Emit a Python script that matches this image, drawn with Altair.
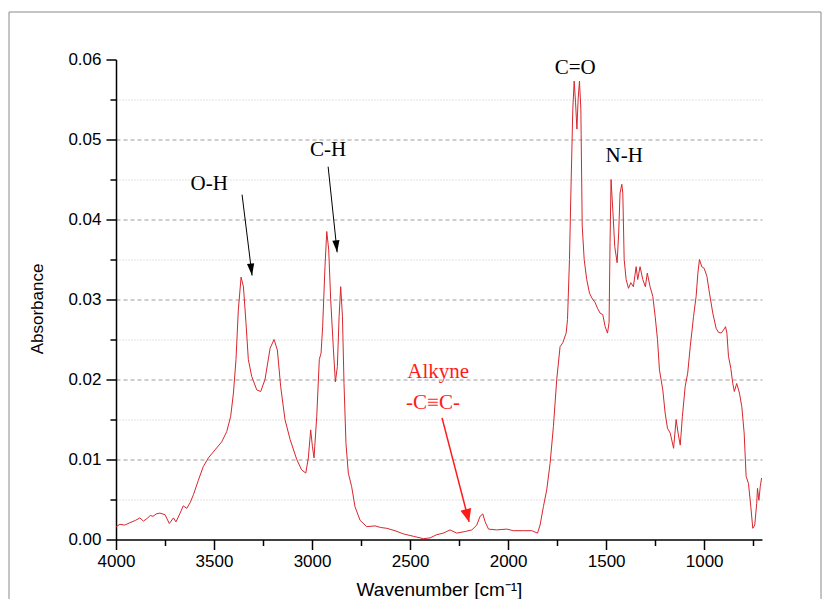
import altair as alt
import pandas as pd

# ---------------- data ----------------
WAVENUMBER = [
    4000, 3980, 3955, 3929, 3900, 3878, 3860, 3843, 3825, 3811, 3795, 3776, 3750, 3728, 3707, 3694,
    3673, 3657, 3639, 3622, 3605, 3580, 3555, 3529, 3495, 3461, 3435, 3415, 3401, 3388, 3376, 3362,
    3350, 3337, 3325, 3308, 3282, 3262, 3240, 3214, 3194, 3177, 3160, 3138, 3112, 3078, 3053, 3032,
    3019, 3007, 2998, 2990, 2976, 2963, 2954, 2946, 2934, 2925, 2915, 2905, 2891, 2881, 2871, 2862,
    2854, 2845, 2837, 2827, 2815, 2798, 2781, 2755, 2721, 2679, 2650, 2619, 2577, 2534, 2483, 2432,
    2398, 2364, 2330, 2296, 2262, 2219, 2185, 2160, 2143, 2129, 2117, 2100, 2058, 2007, 1973, 1922,
    1879, 1850, 1837, 1820, 1803, 1786, 1769, 1752, 1735, 1721, 1704, 1697, 1687, 1679, 1670, 1663,
    1656, 1649, 1643, 1636, 1629, 1622, 1612, 1599, 1585, 1573, 1556, 1544, 1531, 1517, 1505, 1493,
    1485, 1480, 1475, 1466, 1456, 1444, 1436, 1429, 1420, 1415, 1408, 1398, 1386, 1374, 1361, 1347,
    1339, 1327, 1313, 1300, 1290, 1276, 1262, 1250, 1238, 1228, 1211, 1199, 1187, 1173, 1156, 1143,
    1133, 1122, 1111, 1097, 1084, 1071, 1054, 1041, 1032, 1024, 1012, 1000, 986, 973, 956, 939,
    927, 913, 901, 891, 884, 876, 864, 854, 846, 834, 820, 808, 796, 786, 774, 762,
    752, 742, 732, 728, 721, 714, 707,
]
ABSORBANCE = [
    0.0016, 0.0019, 0.0018, 0.0021, 0.0024, 0.0027, 0.0023, 0.0026, 0.0030, 0.0029, 0.0032, 0.0033, 0.0031, 0.0020, 0.0027, 0.0022,
    0.0033, 0.0042, 0.0039, 0.0046, 0.0056, 0.0074, 0.0091, 0.0102, 0.0112, 0.0122, 0.0135, 0.0154, 0.0183, 0.0225, 0.0287, 0.0328,
    0.0316, 0.0271, 0.0225, 0.0204, 0.0187, 0.0185, 0.0200, 0.0239, 0.0250, 0.0237, 0.0191, 0.0150, 0.0125, 0.0100, 0.0087, 0.0083,
    0.0102, 0.0137, 0.0116, 0.0102, 0.0154, 0.0225, 0.0233, 0.0266, 0.0341, 0.0385, 0.0362, 0.0300, 0.0237, 0.0197, 0.0216, 0.0279,
    0.0316, 0.0279, 0.0195, 0.0120, 0.0083, 0.0066, 0.0041, 0.0024, 0.0016, 0.0017, 0.0015, 0.0014, 0.0011, 0.0007, 0.0004, 0.0001,
    0.0002, 0.0006, 0.0008, 0.0012, 0.0008, 0.0010, 0.0012, 0.0018, 0.0029, 0.0032, 0.0022, 0.0013, 0.0012, 0.0013, 0.0011, 0.0011,
    0.0011, 0.0008, 0.0018, 0.0041, 0.0062, 0.0095, 0.0141, 0.0200, 0.0241, 0.0246, 0.0258, 0.0275, 0.0350, 0.0442, 0.0538, 0.0573,
    0.0546, 0.0513, 0.0550, 0.0573, 0.0538, 0.0392, 0.0350, 0.0325, 0.0308, 0.0302, 0.0296, 0.0289, 0.0283, 0.0281, 0.0266, 0.0258,
    0.0271, 0.0371, 0.0450, 0.0412, 0.0366, 0.0346, 0.0383, 0.0433, 0.0444, 0.0433, 0.0350, 0.0325, 0.0314, 0.0321, 0.0316, 0.0341,
    0.0325, 0.0341, 0.0325, 0.0316, 0.0333, 0.0316, 0.0304, 0.0279, 0.0250, 0.0212, 0.0187, 0.0158, 0.0139, 0.0133, 0.0114, 0.0150,
    0.0133, 0.0118, 0.0154, 0.0191, 0.0208, 0.0241, 0.0279, 0.0304, 0.0333, 0.0350, 0.0341, 0.0339, 0.0329, 0.0308, 0.0283, 0.0264,
    0.0259, 0.0258, 0.0262, 0.0266, 0.0258, 0.0229, 0.0214, 0.0195, 0.0185, 0.0195, 0.0183, 0.0166, 0.0133, 0.0079, 0.0070, 0.0041,
    0.0014, 0.0018, 0.0045, 0.0064, 0.0049, 0.0066, 0.0077,
]

X_TICKS = [4000, 3750, 3500, 3250, 3000, 2750, 2500, 2250, 2000, 1750, 1500, 1250, 1000, 750]
Y_TICKS = [0.0, 0.005, 0.01, 0.015, 0.02, 0.025, 0.03, 0.035, 0.04, 0.045, 0.05, 0.055, 0.06]

BAND_TEXT = ["O-H", "C-H", "C=O", "N-H"]
BAND_WN = [3525, 2918, 1658, 1408]
BAND_ABS = [0.0445, 0.0487, 0.0589, 0.0480]

ALKYNE_TEXT = ["Alkyne", "-C\u2261C-"]
ALKYNE_WN = [2357, 2383]
ALKYNE_ABS = [0.0210, 0.0171]

ARROW_WN1 = [3357, 2918]
ARROW_ABS1 = [0.0431, 0.0466]
ARROW_WN2 = [3306, 2872]
ARROW_ABS2 = [0.0330, 0.0359]
ARROW_ANGLE = [352.9, 354.0]

ALK_ARROW_WN1 = [2337]
ALK_ARROW_ABS1 = [0.0152]
ALK_ARROW_WN2 = [2199]
ALK_ARROW_ABS2 = [0.0022]
ALK_ARROW_ANGLE = [345.4]

# ---------------- chart ----------------
W, H = 646, 480
RED_LINE = "#d8262c"
RED_TXT = "#ff1a1a"

spec = pd.DataFrame({"wn": WAVENUMBER, "a": ABSORBANCE})
bands = pd.DataFrame({"wn": BAND_WN, "a": BAND_ABS, "t": BAND_TEXT})
alk = pd.DataFrame({"wn": ALKYNE_WN, "a": ALKYNE_ABS, "t": ALKYNE_TEXT})
arrows = pd.DataFrame({"wn": ARROW_WN1, "a": ARROW_ABS1, "wn2": ARROW_WN2, "a2": ARROW_ABS2, "ang": ARROW_ANGLE})
alk_arrow = pd.DataFrame({"wn": ALK_ARROW_WN1, "a": ALK_ARROW_ABS1, "wn2": ALK_ARROW_WN2, "a2": ALK_ARROW_ABS2,
                          "ang": ALK_ARROW_ANGLE})

major_y = "abs(datum.value * 100 - round(datum.value * 100)) < 0.0001"
major_x = "datum.value % 500 === 0"

x_axis = alt.Axis(
    values=X_TICKS,
    title="Wavenumber [cm\u207b\u00b9]",
    labelExpr=f"{major_x} ? datum.label : ''",
    format="d",
    grid=False,
    tickSize={"condition": {"test": major_x, "value": 10}, "value": 6},
    tickColor="black",
    tickWidth=1.5,
    domainColor="black",
    domainWidth=1.5,
    labelFont="Liberation Sans",
    labelFontSize=17,
    labelColor="black",
    labelPadding=4,
    labelFlush=False,
    labelOverlap=False,
    titleFont="Liberation Sans",
    titleFontSize=19,
    titleFontWeight="normal",
    titleColor="black",
    titleY=50,
    titleBaseline="middle",
)
y_axis = alt.Axis(
    values=Y_TICKS,
    title="Absorbance",
    format=".2f",
    labelExpr=f"{major_y} ? datum.label : ''",
    grid=True,
    gridColor={"condition": {"test": major_y, "value": "#9c9c9c"}, "value": "#c4c4c4"},
    gridDash={"condition": {"test": major_y, "value": [4, 3]}, "value": [1, 2]},
    gridOpacity={"condition": {"test": "datum.value < 0.0001 || datum.value > 0.0599", "value": 0}, "value": 1},
    gridWidth=1,
    tickSize={"condition": {"test": major_y, "value": 10}, "value": 6},
    tickColor="black",
    tickWidth=1.5,
    domainColor="black",
    domainWidth=1.5,
    labelFont="Liberation Sans",
    labelFontSize=17,
    labelColor="black",
    labelPadding=5,
    labelOverlap=False,
    titleFont="Liberation Sans",
    titleFontSize=17,
    titleFontWeight="normal",
    titleColor="black",
    titleX=-79,
    titleY=249,
    titleAngle=270,
    titleAlign="center",
    titleBaseline="middle",
)

xs = alt.Scale(domain=[4000, 705], nice=False, zero=False)
ys = alt.Scale(domain=[0, 0.06], nice=False, zero=False)


def X(field="wn"):
    return alt.X(f"{field}:Q", scale=xs, axis=x_axis)


def Y(field="a"):
    return alt.Y(f"{field}:Q", scale=ys, axis=y_axis)


frame = alt.Chart(pd.DataFrame({"k": [0]})).mark_rect(
    fill=None, stroke="#8a8a8a", strokeWidth=1
).encode(
    x=alt.value(-107), x2=alt.value(705), y=alt.value(-47.5), y2=alt.value(700)
)

line = alt.Chart(spec).mark_line(color=RED_LINE, strokeWidth=1, clip=True).encode(
    x=X(), y=Y(), order=alt.Order("wn:Q", sort="descending")
)

arrow_lines = alt.Chart(arrows).mark_rule(color="black", strokeWidth=1).encode(
    x=X(), y=Y(), x2="wn2:Q", y2="a2:Q"
)
arrow_heads = alt.Chart(arrows).mark_point(
    shape="M0,0L0.6,-2L-0.6,-2Z", filled=True, fill="black", stroke=None, opacity=1, size=144
).encode(x=X("wn2"), y=Y("a2"), angle=alt.Angle("ang:Q", scale=None))

alk_line = alt.Chart(alk_arrow).mark_rule(color=RED_TXT, strokeWidth=1.5).encode(
    x=X(), y=Y(), x2="wn2:Q", y2="a2:Q"
)
alk_head = alt.Chart(alk_arrow).mark_point(
    shape="M0,0L0.85,-2L-0.85,-2Z", filled=True, fill=RED_TXT, stroke=None, opacity=1, size=169
).encode(x=X("wn2"), y=Y("a2"), angle=alt.Angle("ang:Q", scale=None))

band_text = alt.Chart(bands).mark_text(
    font="Liberation Serif", fontSize=21, color="black", baseline="middle", align="center"
).encode(x=X(), y=Y(), text="t:N")

alk_text = alt.Chart(alk).mark_text(
    font="Liberation Serif", fontSize=21, color=RED_TXT, baseline="middle", align="center"
).encode(x=X(), y=Y(), text="t:N")

chart = alt.layer(
    frame, line, arrow_lines, arrow_heads, alk_line, alk_head, band_text, alk_text
).properties(
    width=W,
    height=H,
    autosize=alt.AutoSizeParams(type="none"),
    padding={"left": 108, "top": 51.5, "right": 60, "bottom": 59},
    background="white",
).configure_view(stroke=None)

chart.save("out.html", embed_options={"renderer": "svg", "actions": False})
